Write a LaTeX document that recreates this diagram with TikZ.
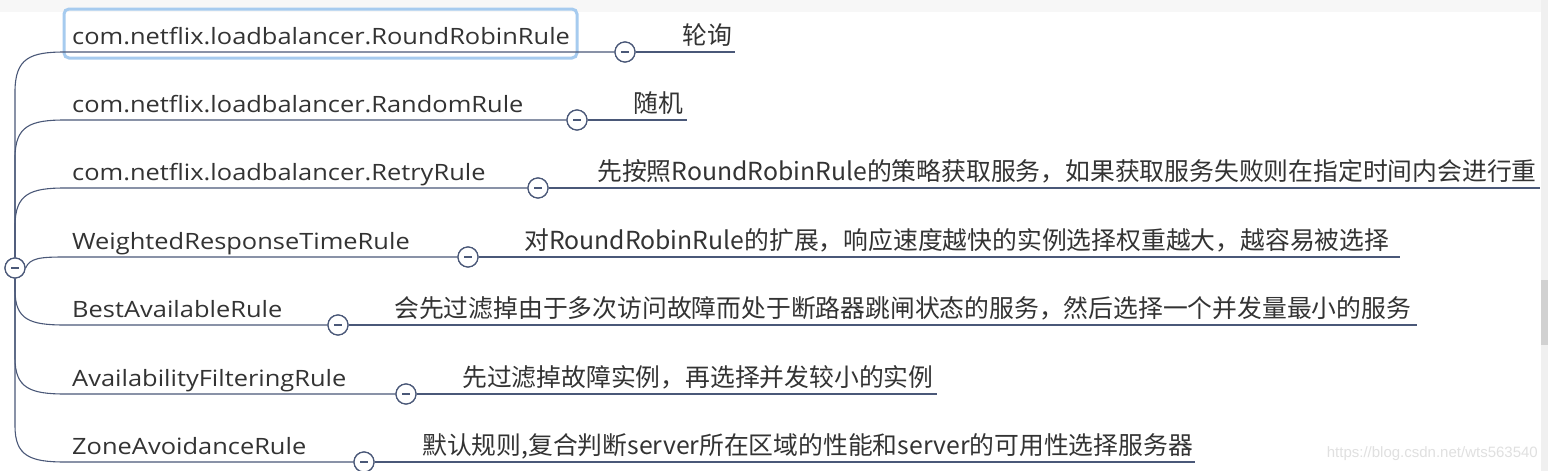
\documentclass[tikz,border=0pt]{standalone}
\usepackage{fontspec}
\setmainfont{Noto Sans CJK SC}
\newfontfamily\rulefont[FakeStretch=1.13]{Open Sans}
\newfontfamily\wmfont{Liberation Sans}
\definecolor{linec}{HTML}{4A5878}
\definecolor{txt}{HTML}{333333}
\definecolor{selc}{HTML}{A6CBEF}
\begin{document}
\begin{tikzpicture}[x=1pt,y=-1pt,
  rule/.style={anchor=base west,inner sep=0pt,text=txt,font=\rulefont\fontsize{22.5}{26}\selectfont},
  desc/.style={anchor=base west,inner sep=0pt,text=txt,font=\fontsize{24.8}{28}\selectfont},
  tog/.style={circle,draw=linec,fill=white,line width=1.2pt,minimum size=20pt,inner sep=0pt,
    path picture={\draw[linec,line width=1.2pt] ([xshift=-4pt]path picture bounding box.center) -- ([xshift=4pt]path picture bounding box.center);}},
  conn/.style={draw=linec,line width=1.1pt}]
\useasboundingbox (0,0) rectangle (1548,471);
\fill[white] (0,0) rectangle (1548,471);
\fill[black!3] (0,0) rectangle (1548,12);
% scrollbar
\fill[black!6] (1541,0) rectangle (1548,471);
\fill[black!18] (1541,280) rectangle (1548,345);
% selection box
\draw[selc,line width=3pt,rounded corners=5pt] (64,9) rectangle (577,58);
% rule texts
\node[rule] (n1) at (72,44) {com.netflix.loadbalancer.RoundRobinRule};
\node[rule] (n2) at (72,112) {com.netflix.loadbalancer.RandomRule};
\node[rule] (n3) at (72,180) {com.netflix.loadbalancer.RetryRule};
\node[rule] (n4) at (72,249) {WeightedResponseTimeRule};
\node[rule] (n5) at (72,317) {BestAvailableRule};
\node[rule] (n6) at (72,386) {AvailabilityFilteringRule};
\node[rule] (n7) at (72,454) {ZoneAvoidanceRule};
% descriptions
\node[desc] (d1) at (682,44) {轮询};
\node[desc] (d2) at (633,112) {随机};
\node[desc] (d3) at (597,180) {先按照RoundRobinRule的策略获取服务，如果获取服务失败则在指定时间内会进行重};
\node[desc] (d4) at (524,249) {对RoundRobinRule的扩展，响应速度越快的实例选择权重越大，越容易被选择};
\node[desc] (d5) at (394,317) {会先过滤掉由于多次访问故障而处于断路器跳闸状态的服务，然后选择一个并发量最小的服务};
\node[desc] (d6) at (462,386) {先过滤掉故障实例，再选择并发较小的实例};
\node[desc] (d7) at (422,454) {默认规则,复合判断server所在区域的性能和server的可用性选择服务器};
% toggles
\node[tog] (root) at (15,268) {};
\node[tog] (c1) at (625,52) {};
\node[tog] (c2) at (577,120) {};
\node[tog] (c3) at (538,188) {};
\node[tog] (c4) at (468,257) {};
\node[tog] (c5) at (338,325) {};
\node[tog] (c6) at (406,394) {};
\node[tog] (c7) at (364,462) {};
% endpoints
\coordinate (e1) at (735,52);
\coordinate (e2) at (687,120);
\coordinate (e3) at (1540,188);
\coordinate (e4) at (1400,257);
\coordinate (e5) at (1417,325);
\coordinate (e6) at (937,394);
\coordinate (e7) at (1195,462);
% branches
\path[conn] (root.north) -- (15,92) .. controls (15,58) and (30,52) .. (65,52) -- (c1.west);
\path[conn] (root.north) -- (15,158) .. controls (15,126) and (30,120) .. (65,120) -- (c2.west);
\path[conn] (root.north) -- (15,226) .. controls (15,194) and (30,188) .. (65,188) -- (c3.west);
\path[conn] (root.east) .. controls (30,258) and (40,257) .. (65,257) -- (c4.west);
\path[conn] (root.south) -- (15,290) .. controls (15,320) and (30,325) .. (65,325) -- (c5.west);
\path[conn] (root.south) -- (15,358) .. controls (15,388) and (30,394) .. (65,394) -- (c6.west);
\path[conn] (root.south) -- (15,426) .. controls (15,456) and (30,462) .. (65,462) -- (c7.west);
\path[conn] (c1.east) -- (e1);
\path[conn] (c2.east) -- (e2);
\path[conn] (c3.east) -- (e3);
\path[conn] (c4.east) -- (e4);
\path[conn] (c5.east) -- (e5);
\path[conn] (c6.east) -- (e6);
\path[conn] (c7.east) -- (e7);
% toggles on top
\foreach \p in {root,c1,c2,c3,c4,c5,c6,c7} {\node[tog] at (\p) {};}
% watermark
\node[anchor=base east,inner sep=0pt,text=black!12,font=\wmfont\fontsize{15}{18}\selectfont] (wm) at (1538,457) {https://blog.csdn.net/wts563540};
\end{tikzpicture}
\end{document}
